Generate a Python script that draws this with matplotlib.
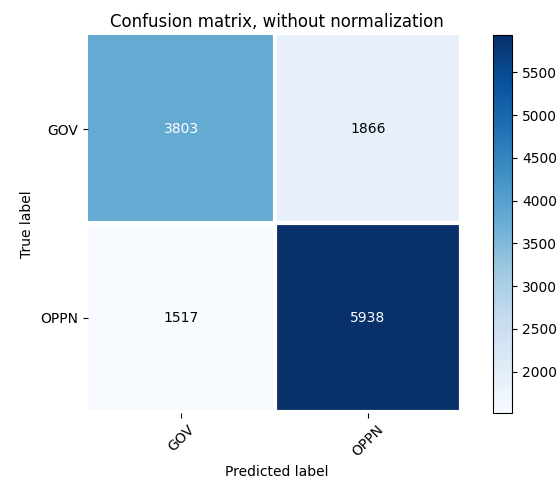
import numpy as np
import matplotlib
matplotlib.use("Agg")
import matplotlib.pyplot as plt

classes = ["GOV", "OPPN"]
cm = np.array([[3803, 1866],
               [1517, 5938]])

fig = plt.figure(figsize=(5.58, 4.79), dpi=100)
ax = fig.add_axes([0.157, 0.138, 0.677, 0.789])
im = ax.imshow(cm, interpolation="nearest", cmap=plt.cm.Blues, aspect="auto")
ax.set_title("Confusion matrix, without normalization", fontsize=12)

ticks = np.arange(len(classes))
ax.set_xticks(ticks)
ax.set_xticklabels(classes, rotation=45)
ax.set_yticks(ticks)
ax.set_yticklabels(classes)

ax.set_xticks(np.arange(0.5, len(classes), 1), minor=True)
ax.set_yticks(np.arange(0.5, len(classes), 1), minor=True)
ax.grid(which="minor", color="white", linewidth=3)
ax.tick_params(which="minor", length=0)
for s in ax.spines.values():
    s.set_visible(False)
ax.set_xlim(-0.5, 1.521)
ax.set_ylim(1.506, -0.5)

thresh = cm.max() / 2.0
for i in range(cm.shape[0]):
    for j in range(cm.shape[1]):
        ax.text(j, i, format(cm[i, j], "d"), ha="center", va="center",
                color="white" if cm[i, j] > thresh else "black")

ax.set_ylabel("True label")
ax.set_xlabel("Predicted label")

cax = fig.add_axes([0.884, 0.138, 0.034, 0.789])
cb = fig.colorbar(im, cax=cax)
cb.set_ticks(np.arange(2000, 6000, 500))

fig.savefig("out.png", dpi=100)
